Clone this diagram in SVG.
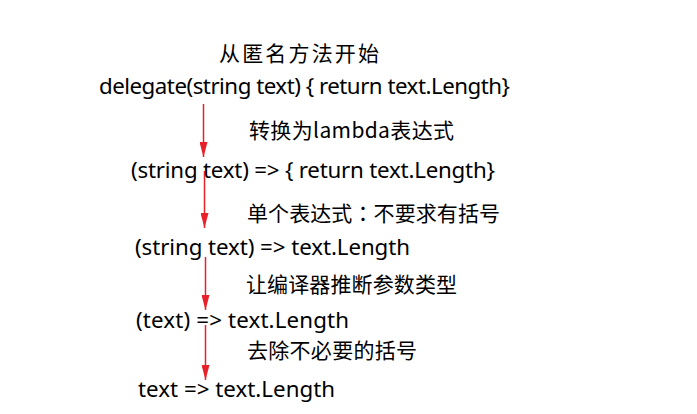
<svg xmlns="http://www.w3.org/2000/svg" width="697" height="414" viewBox="0 0 697 414">
<style>
.code{font-family:"Noto Sans","Liberation Sans","Noto Sans CJK SC",sans-serif;font-size:22.3px;fill:#000}
.note{font-family:"Noto Sans CJK SC","Noto Sans",sans-serif;font-size:21px;fill:#000}
.arrow{stroke:#e8202a;stroke-width:1.5;fill:none;marker-end:url(#head)}
</style>
<defs>
<marker id="head" markerUnits="userSpaceOnUse" markerWidth="15" markerHeight="8" viewBox="0 0 15 8" refX="15" refY="4" orient="auto">
<path d="M0,0 L15,4 L0,8 Z" fill="#e8202a"/>
</marker>
</defs>
<rect width="697" height="414" fill="#fff"/>
<g id="connectors">
<line class="arrow" x1="203.5" y1="104" x2="203.5" y2="157"/>
<line class="arrow" x1="204.5" y1="171" x2="204.5" y2="228"/>
<line class="arrow" x1="205.5" y1="257" x2="205.5" y2="310"/>
<line class="arrow" x1="205.5" y1="325" x2="205.5" y2="380"/>
</g>
<g id="n1"><text class="note" x="219" y="61" textLength="160">从匿名方法开始</text></g>
<g id="n2"><text class="code" x="99" y="94" textLength="411">delegate(string text) { return text.Length}</text></g>
<g id="n3"><text class="note" x="249" y="138" textLength="205">转换为lambda表达式</text></g>
<g id="n4"><text class="code" x="131" y="178" textLength="364">(string text) => { return text.Length}</text></g>
<g id="n5"><text class="note" x="247" y="221" textLength="253">单个表达式<tspan font-family="Noto Sans CJK TC">：</tspan>不要求有括号</text></g>
<g id="n6"><text class="code" x="135" y="255" textLength="275">(string text) => text.Length</text></g>
<g id="n7"><text class="note" x="246" y="292" textLength="211">让编译器推断参数类型</text></g>
<g id="n8"><text class="code" x="136" y="328" textLength="213">(text) => text.Length</text></g>
<g id="n9"><text class="note" x="247" y="358" textLength="170">去除不必要的括号</text></g>
<g id="n10"><text class="code" x="138" y="397" textLength="197">text => text.Length</text></g>
</svg>
